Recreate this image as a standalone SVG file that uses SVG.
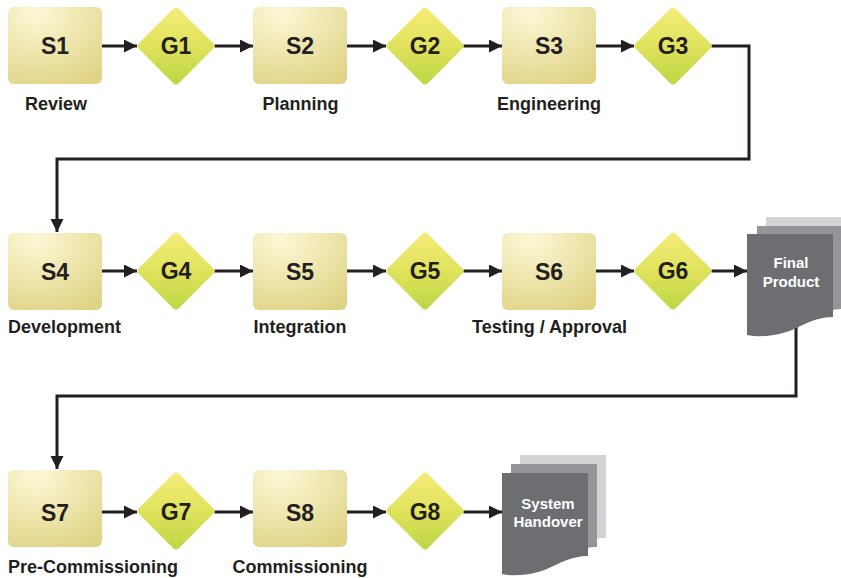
<svg xmlns="http://www.w3.org/2000/svg" xmlns:xlink="http://www.w3.org/1999/xlink" width="841" height="578" viewBox="0 0 841 578">
<defs>
<radialGradient id="boxg" cx="0.3" cy="0.08" r="1.05">
<stop offset="0" stop-color="#fcf8d6"/>
<stop offset="1" stop-color="#dfd384"/>
</radialGradient>
<linearGradient id="diag" x1="0" y1="0" x2="0" y2="1">
<stop offset="0" stop-color="#f6ec7a"/>
<stop offset="0.5" stop-color="#e0e25c"/>
<stop offset="1" stop-color="#bcd744"/>
</linearGradient>
<path id="dia" d="M-37,-3 L-3,-37 Q0,-40 3,-37 L37,-3 Q40,0 37,3 L3,37 Q0,40 -3,37 L-37,3 Q-40,0 -37,-3 Z"/>
<path id="doc" d="M0,0 H86 V83 C70,83 58,90 45,96 C33,101 15,104 0,101 Z"/>
<marker id="ah" markerUnits="userSpaceOnUse" markerWidth="14" markerHeight="14" refX="13" refY="6.5" orient="auto">
<path d="M0,0 L13,6.5 L0,13 Z" fill="#231f20"/>
</marker>
</defs>
<style>
.box{fill:url(#boxg);}
.dia{fill:url(#diag);}
.conn{fill:none;stroke:#231f20;stroke-width:3;marker-end:url(#ah);}
.nt{font-family:"Liberation Sans",Arial,sans-serif;font-weight:bold;font-size:23px;fill:#231f20;text-anchor:middle;}
.lb{font-family:"Liberation Sans",Arial,sans-serif;font-weight:bold;font-size:18px;fill:#231f20;text-anchor:middle;}
.lbs{text-anchor:start;}
.dt{font-family:"Liberation Sans",Arial,sans-serif;font-weight:bold;font-size:15px;fill:#ffffff;text-anchor:middle;}
.s1{fill:#d1d3d4;}
.s2{fill:#939598;}
.s3{fill:#6d6e71;}
</style>
<g id="connectors">
<line class="conn" x1="102" y1="46" x2="137" y2="46"/>
<line class="conn" x1="214.5" y1="46" x2="253" y2="46"/>
<line class="conn" x1="347" y1="46" x2="386" y2="46"/>
<line class="conn" x1="463.5" y1="46" x2="502" y2="46"/>
<line class="conn" x1="596" y1="46" x2="634" y2="46"/>
<path class="conn" d="M711.5,46 H749 V159 H57 V232"/>
<line class="conn" x1="102" y1="271" x2="137" y2="271"/>
<line class="conn" x1="214.5" y1="271" x2="253" y2="271"/>
<line class="conn" x1="347" y1="271" x2="386" y2="271"/>
<line class="conn" x1="463.5" y1="271" x2="502" y2="271"/>
<line class="conn" x1="596" y1="271" x2="634" y2="271"/>
<line class="conn" x1="711.5" y1="271" x2="747" y2="271"/>
<path class="conn" d="M796,322 V396 H57 V469"/>
<line class="conn" x1="102" y1="512" x2="137" y2="512"/>
<line class="conn" x1="214.5" y1="512" x2="253" y2="512"/>
<line class="conn" x1="347" y1="512" x2="386" y2="512"/>
<line class="conn" x1="463.5" y1="512" x2="502" y2="512"/>
</g>
<g id="S1"><rect class="box" x="8" y="7" width="94" height="77" rx="6"/><text class="nt" x="55" y="54">S1</text><text class="lb" x="56" y="110">Review</text></g>
<g id="G1"><use xlink:href="#dia" x="176" y="46" class="dia"/><text class="nt" x="176" y="54">G1</text></g>
<g id="S2"><rect class="box" x="253" y="7" width="94" height="77" rx="6"/><text class="nt" x="300" y="54">S2</text><text class="lb" x="300.5" y="110">Planning</text></g>
<g id="G2"><use xlink:href="#dia" x="425" y="46" class="dia"/><text class="nt" x="425" y="54">G2</text></g>
<g id="S3"><rect class="box" x="502" y="7" width="94" height="77" rx="6"/><text class="nt" x="549" y="54">S3</text><text class="lb" x="549" y="110">Engineering</text></g>
<g id="G3"><use xlink:href="#dia" x="673" y="46" class="dia"/><text class="nt" x="673" y="54">G3</text></g>
<g id="S4"><rect class="box" x="8" y="233" width="94" height="77" rx="6"/><text class="nt" x="55" y="280">S4</text><text class="lb lbs" x="8" y="333">Development</text></g>
<g id="G4"><use xlink:href="#dia" x="176" y="271" class="dia"/><text class="nt" x="176" y="279">G4</text></g>
<g id="S5"><rect class="box" x="253" y="233" width="94" height="77" rx="6"/><text class="nt" x="300" y="280">S5</text><text class="lb" x="300" y="333">Integration</text></g>
<g id="G5"><use xlink:href="#dia" x="425" y="271" class="dia"/><text class="nt" x="425" y="279">G5</text></g>
<g id="S6"><rect class="box" x="502" y="233" width="94" height="77" rx="6"/><text class="nt" x="549" y="280">S6</text><text class="lb" x="549.5" y="333">Testing / Approval</text></g>
<g id="G6"><use xlink:href="#dia" x="673" y="271" class="dia"/><text class="nt" x="673" y="279">G6</text></g>
<g id="FinalProduct">
<use xlink:href="#doc" x="766" y="217" class="s1"/>
<use xlink:href="#doc" x="757" y="226" class="s2"/>
<use xlink:href="#doc" x="747" y="234" class="s3"/>
<text class="dt" x="791" y="268">Final</text>
<text class="dt" x="791" y="287">Product</text>
</g>
<g id="S7"><rect class="box" x="8" y="470" width="94" height="77" rx="6"/><text class="nt" x="55" y="521">S7</text><text class="lb lbs" x="8" y="573">Pre-Commissioning</text></g>
<g id="G7"><use xlink:href="#dia" x="176" y="511" class="dia"/><text class="nt" x="176" y="520">G7</text></g>
<g id="S8"><rect class="box" x="253" y="470" width="94" height="77" rx="6"/><text class="nt" x="300" y="521">S8</text><text class="lb" x="300" y="573">Commissioning</text></g>
<g id="G8"><use xlink:href="#dia" x="425" y="511" class="dia"/><text class="nt" x="425" y="520">G8</text></g>
<g id="SystemHandover">
<use xlink:href="#doc" x="520" y="455" class="s1"/>
<use xlink:href="#doc" x="511" y="464" class="s2"/>
<use xlink:href="#doc" x="502" y="473" class="s3"/>
<text class="dt" x="548" y="509">System</text>
<text class="dt" x="548" y="527">Handover</text>
</g>
</svg>
